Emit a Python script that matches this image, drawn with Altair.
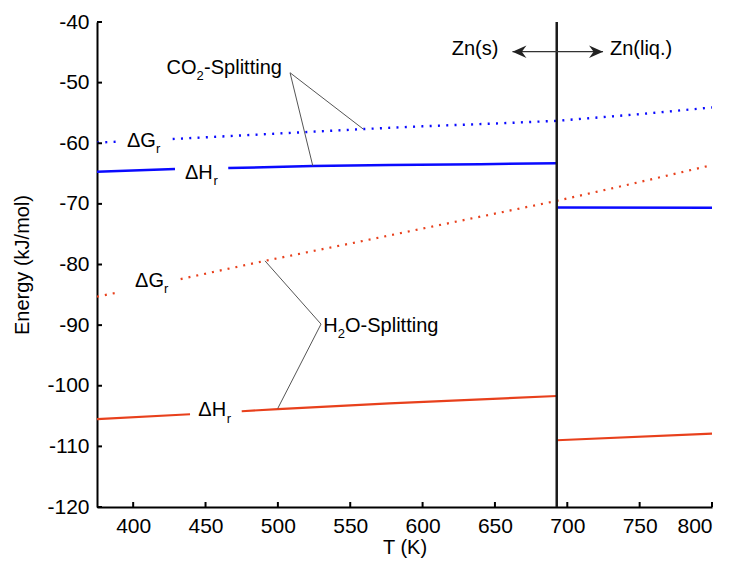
import altair as alt
import pandas as pd

# ---------------- data ----------------
T_MELT = 692.7

# CO2-splitting, Gibbs energy (dotted blue); seg 0/1 = broken around its label
co2_dG_T = [375, 388.6, 427.3, 500, 559, 600, 650, 692.7, 750, 800]
co2_dG_E = [-59.9, -59.75, -59.3, -58.4, -57.66, -57.2, -56.75, -56.3, -55.2, -54.1]
co2_dG_seg = [0, 0, 1, 1, 1, 1, 1, 1, 1, 1]

# CO2-splitting, enthalpy (solid blue)
co2_dH_T = [375, 428.9, 465.7, 524, 577, 640, 692.7, 692.7, 800]
co2_dH_E = [-64.7, -64.25, -64.1, -63.75, -63.6, -63.45, -63.3, -70.6, -70.65]
co2_dH_seg = [0, 0, 1, 1, 1, 1, 1, 2, 2]

# H2O-splitting, Gibbs energy (dotted red)
h2o_dG_T = [375, 389.7, 432.8, 491, 559, 692.7, 750, 800]
h2o_dG_E = [-85.3, -84.6, -82.4, -79.4, -76.1, -69.5, -66.4, -63.6]
h2o_dG_seg = [0, 0, 1, 1, 1, 1, 1, 1]

# H2O-splitting, enthalpy (solid red)
h2o_dH_T = [375, 439.3, 475, 500, 577, 692.7, 692.7, 800]
h2o_dH_E = [-105.5, -104.7, -104.2, -103.85, -102.9, -101.7, -109.0, -107.9]
h2o_dH_seg = [0, 0, 1, 1, 1, 1, 2, 2]

x_ticks = [400, 450, 500, 550, 600, 650, 700, 750, 800]
y_ticks = [-120, -110, -100, -90, -80, -70, -60, -50, -40]

# leader lines of the two annotations: (T, E) -> (T2, E2)
lead_T = [508.4, 508.4, 529.8, 529.8]
lead_E = [-48.37, -48.37, -89.83, -89.83]
lead_T2 = [559.0, 524.1, 491.1, 499.9]
lead_E2 = [-57.66, -63.71, -79.4, -103.75]

# phase-change arrow
arrow_T = [662.1, 724.7]
arrow_E = [-44.9, -44.9]

BLUE = "#0a0aff"
RED = "#e8401c"
FONT = "Liberation Sans"
W, H = 615, 485


def frame(T, E, seg):
    return pd.DataFrame({"T": T, "E": E, "seg": seg})


xs = alt.Scale(domain=[375, 800], nice=False, zero=False)
ys = alt.Scale(domain=[-120, -40], nice=False, zero=False)


def line(df, color, width, dash=None):
    kw = dict(color=color, strokeWidth=width, clip=True)
    if dash:
        kw.update(strokeDash=dash)
    return alt.Chart(df).mark_line(**kw).encode(
        x=alt.X("T:Q", scale=xs,
                axis=alt.Axis(values=x_ticks, title="T (K)", titleX=W / 2, titleY=46,
                              titleBaseline="alphabetic", titleAlign="center")),
        y=alt.Y("E:Q", scale=ys,
                axis=alt.Axis(values=y_ticks, title="Energy (kJ/mol)", titleX=-75,
                              titleY=H / 2, titleAngle=270, titleBaseline="middle",
                              titleAlign="center")),
        detail="seg:N",
    )


layers = [
    line(frame(co2_dG_T, co2_dG_E, co2_dG_seg), BLUE, 2.4, [2, 6.3]),
    line(frame(co2_dH_T, co2_dH_E, co2_dH_seg), BLUE, 2.5),
    line(frame(h2o_dG_T, h2o_dG_E, h2o_dG_seg), RED, 2.2, [2, 6]),
    line(frame(h2o_dH_T, h2o_dH_E, h2o_dH_seg), RED, 2.1),
]

# melting point of zinc
melt = pd.DataFrame({"T": [T_MELT], "E": [-120], "E2": [-40]})
layers.append(alt.Chart(melt).mark_rule(color="#1a1a1a", strokeWidth=2.5).encode(
    x="T:Q", y="E:Q", y2="E2:Q"))

# leader lines
lead = pd.DataFrame({"T": lead_T, "E": lead_E, "T2": lead_T2, "E2": lead_E2})
layers.append(alt.Chart(lead).mark_rule(color="#555555", strokeWidth=1).encode(
    x="T:Q", y="E:Q", x2="T2:Q", y2="E2:Q"))

# inward ticks
xt = pd.DataFrame({"T": x_ticks})
layers.append(alt.Chart(xt).mark_rule(color="black", strokeWidth=2).encode(
    x="T:Q", y=alt.value(H), y2=alt.value(H - 5)))
yt = pd.DataFrame({"E": y_ticks})
layers.append(alt.Chart(yt).mark_rule(color="black", strokeWidth=2).encode(
    y="E:Q", x=alt.value(0), x2=alt.value(5)))

# arrow between Zn(s) and Zn(liq.)
arr = pd.DataFrame({"T": [arrow_T[0]], "E": [arrow_E[0]], "T2": [arrow_T[1]], "E2": [arrow_E[1]]})
layers.append(alt.Chart(arr).mark_rule(color="#333333", strokeWidth=1.3).encode(
    x="T:Q", y="E:Q", x2="T2:Q", y2="E2:Q"))
heads = pd.DataFrame({"T": arrow_T, "E": arrow_E, "dir": ["L", "R"]})
layers.append(alt.Chart(heads).mark_point(filled=True, color="#222222", size=196, opacity=1).encode(
    x="T:Q", y="E:Q",
    shape=alt.Shape("dir:N", legend=None, scale=alt.Scale(
        domain=["L", "R"],
        range=["M0,0L2,-0.9L1.35,0L2,0.9Z", "M0,0L-2,-0.9L-1.35,0L-2,0.9Z"]))))

# text annotations: (text, T, E, font size, dx, dy)
texts = [
    ("CO", 423.1, -48.58, 20, 0, 0),
    ("2", 423.1, -48.58, 13, 30, 6),
    ("-Splitting", 423.1, -48.58, 20, 37.5, 0),
    ("H", 531.4, -91.1, 20, 0, 0),
    ("2", 531.4, -91.1, 13, 14.4, 6),
    ("O-Splitting", 531.4, -91.1, 20, 21.7, 0),
    ("ΔG", 395.7, -60.58, 20, 0, 0),
    ("r", 395.7, -60.58, 13, 29, 6.5),
    ("ΔH", 435.8, -65.83, 20, 0, 0),
    ("r", 435.8, -65.83, 13, 28.5, 6.5),
    ("ΔG", 401.3, -83.68, 20, 0, 0),
    ("r", 401.3, -83.68, 13, 29, 6.5),
    ("ΔH", 445.0, -105.0, 20, 0, 0),
    ("r", 445.0, -105.0, 13, 28.5, 6.5),
    ("Zn(s)", 620.1, -45.45, 20, 0, 0),
    ("Zn(liq.)", 729.5, -45.45, 20, 0, 0),
]
for txt, t, e, sz, dx, dy in texts:
    d = pd.DataFrame({"T": [t], "E": [e], "label": [txt]})
    layers.append(alt.Chart(d).mark_text(
        font=FONT, fontSize=sz, color="black", align="left", baseline="alphabetic",
        dx=dx, dy=dy).encode(x="T:Q", y="E:Q", text="label:N"))

chart = alt.layer(*layers).properties(
    width=W, height=H,
    autosize=alt.AutoSizeParams(type="none"),
    padding={"left": 97, "top": 22, "right": 23, "bottom": 58},
    background="white",
).configure_view(stroke=None).configure_axis(
    grid=False, ticks=False, domain=True, domainColor="black", domainWidth=2,
    labelFont=FONT, labelFontSize=21, labelColor="black", labelPadding=8,
    labelExpr="'' + datum.value",
    titleFont=FONT, titleFontSize=20, titleFontWeight="normal", titleColor="black",
)

chart.save("out.html", embed_options={"renderer": "svg", "actions": False})
